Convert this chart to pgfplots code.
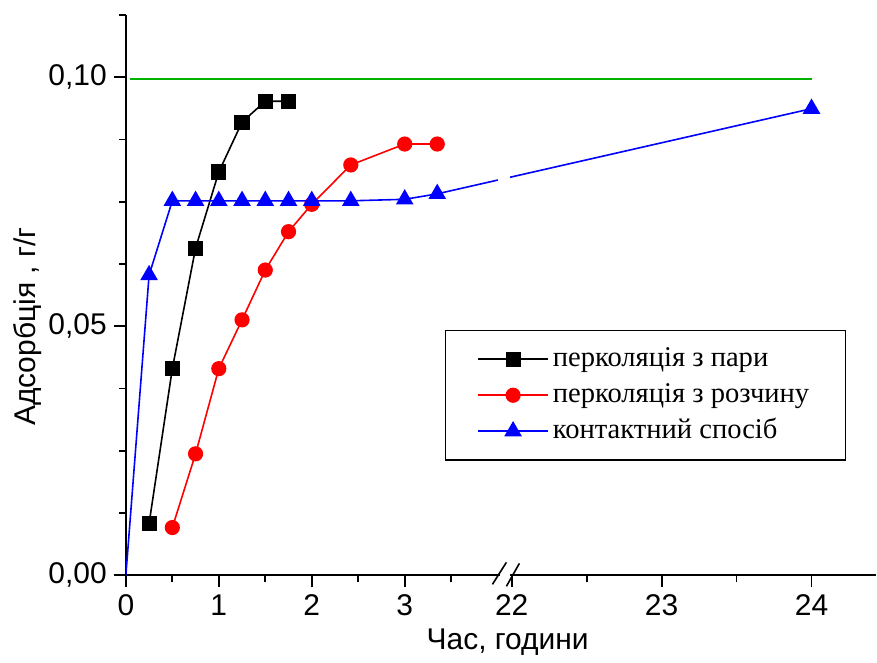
\documentclass[border=0pt]{standalone}
\usepackage{fontspec}
\setmainfont{Liberation Sans}
\newfontfamily\legfont{Liberation Serif}
\usepackage{pgfplots}
\pgfplotsset{compat=1.18}

% broken x axis: 0..~4.1 then 22..24.4 (right part stretched)
\pgfplotstableread{
x y
0.25 0.0104
0.5  0.0415
0.75 0.0657
1.0  0.0810
1.25 0.0910
1.5  0.0952
1.75 0.0952
}\steam
\pgfplotstableread{
x y
0.5  0.0096
0.75 0.0244
1.0  0.0415
1.25 0.0513
1.5  0.0613
1.75 0.0690
2.0  0.0745
2.42 0.0824
3.0  0.0866
3.35 0.0866
}\solution
\pgfplotstableread{
x y
0.25 0.0603
0.5  0.0752
0.75 0.0752
1.0  0.0752
1.25 0.0752
1.5  0.0752
1.75 0.0752
2.0  0.0752
2.42 0.0752
3.0  0.0755
3.35 0.0766
24   0.0937
}\contact

\begin{document}
\begin{tikzpicture}
\begin{axis}[
  scale only axis, width=375.5pt, height=280.5pt,
  x coord trafo/.code={\pgfmathparse{#1>10 ? 4.151+(#1-22)*1.6129 : #1}},
  xmin=0, xmax=24.43, ymin=0, ymax=0.11251,
  axis x line*=bottom, axis y line*=left,
  axis line style={line width=1pt},
  clip mode=individual,
  xtick={0,1,2,3,22,23,24}, xticklabels={0,1,2,3,22,23,24},
  minor xtick={0.5,1.5,2.5,3.5,22.5,23.5},
  ytick={0,0.05,0.1}, yticklabels={{0,00},{0,05},{0,10}},
  minor ytick={0.0125,0.025,0.0375,0.0625,0.075,0.0875,0.1125},
  tick align=outside, major tick length=6pt, minor tick length=3.5pt,
  every tick/.style={black, line width=0.9pt},
  tick label style={font=\fontsize{15}{18}\selectfont},
  xlabel={Час, години}, ylabel={Адсорбція , г/г},
  every axis x label/.style={at={(axis description cs:0.509,-0.12)}, anchor=center,
    font=\fontsize{15}{18}\selectfont},
  every axis y label/.style={at={(axis description cs:-0.1305,0.444)}, anchor=center, rotate=90,
    font=\fontsize{15}{18}\selectfont},
  legend cell align=left,
  legend image code/.code={\draw[mark repeat=2,mark phase=2] plot coordinates {(0pt,0pt)(17.5pt,0pt)(35pt,0pt)};},
  legend style={at={(rel axis cs:0.425,0.4385)}, anchor=north west, draw=black, line width=0.7pt,
    font=\legfont\fontsize{14.3}{17}\selectfont, inner xsep=16pt, inner ysep=6pt, row sep=1pt,
    nodes={text height=10pt, text depth=3pt}},
]
\addplot[green!70!black, line width=0.8pt, forget plot] coordinates {(0.04,0.0997) (24,0.0997)};
\addplot[black, line width=0.8pt, mark=square*, mark size=3.4pt] table {\steam};
\addlegendentry{перколяція з пари}
\addplot[red, line width=0.8pt, mark=*, mark size=3.4pt] table {\solution};
\addlegendentry{перколяція з розчину}
\addplot[blue, line width=0.8pt, mark=triangle*, mark size=4.3pt] table {\contact};
\addlegendentry{контактний спосіб}
\addplot[blue, line width=0.8pt, forget plot] coordinates {(0,0) (0.25,0.0603)};
% gap in the line at the axis break
\fill[white] (rel axis cs:0.4967,0.699) rectangle (rel axis cs:0.5127,0.7237);
% break marks
\fill[white] (rel axis cs:0.4990,-0.012) rectangle (rel axis cs:0.5120,0.012);
\draw[black, line width=0.8pt] (rel axis cs:0.4887,-0.016) -- (rel axis cs:0.5073,0.0232);
\draw[black, line width=0.8pt] (rel axis cs:0.5073,-0.0196) -- (rel axis cs:0.5246,0.0214);
\end{axis}
\path (-63pt,-42.5pt) rectangle (375.5pt,288pt);
\end{tikzpicture}
\end{document}
